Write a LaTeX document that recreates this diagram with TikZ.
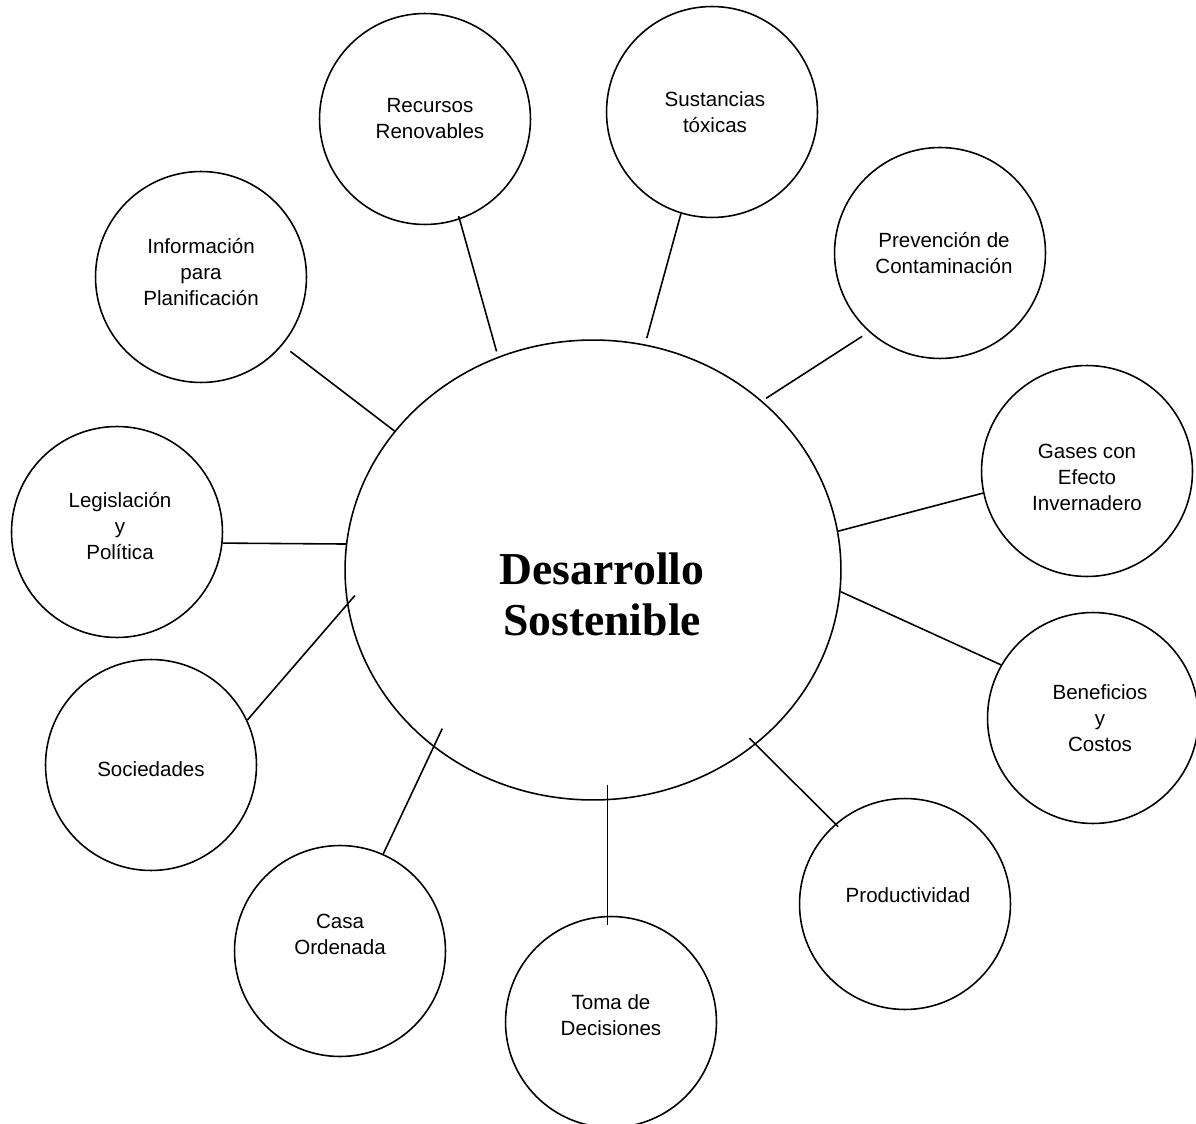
\documentclass[tikz,border=0pt]{standalone}
\usepackage{fontspec}
\setmainfont{Liberation Serif}
\newfontfamily\topicfont{Liberation Sans}
\usetikzlibrary{shapes.geometric}

\begin{document}
\begin{tikzpicture}[
      x=0.02cm, y=-0.02cm,
      line width=0.9pt,
      hub/.style={ellipse, draw, minimum width=9.92cm, minimum height=9.2cm, inner sep=0pt},
      hubtext/.style={align=center, font=\bfseries\fontsize{26}{29}\selectfont},
      topic/.style={circle, draw, minimum size=4.22cm, inner sep=0pt},
      caption/.style={align=center, inner sep=0pt, font=\topicfont\fontsize{11.7}{14.8}\selectfont},
      every edge/.style={draw, line width=0.9pt}
      ]
      \useasboundingbox (0,0) rectangle (1196,1124);

      \node[hub] (dev) at (593,570) {};
      \node[hubtext] (devtext) at (602,594) {Desarrollo\\Sostenible};

      \node[topic, label={[caption, xshift=0.1cm]center:Recursos\\Renovables}] (recursos) at (425,119) {};
      \node[topic, label={[caption, xshift=0.06cm]center:Sustancias\\tóxicas}] (sustancias) at (712,112) {};
      \node[topic, label={[caption, xshift=0.08cm]center:Prevención de\\Contaminación}] (prevencion) at (940,253) {};
      \node[topic, label={[caption, yshift=-0.12cm]center:Gases con\\Efecto\\Invernadero}] (gases) at (1087,471) {};
      \node[topic, label={[caption, xshift=0.14cm]center:Beneficios\\y\\Costos}] (beneficios) at (1093,718) {};
      \node[topic, label={[caption, xshift=0.06cm, yshift=0.18cm]center:Productividad}] (productividad) at (905,904) {};
      \node[topic, label={[caption, yshift=0.14cm]center:Toma de\\Decisiones}] (toma) at (611,1022) {};
      \node[topic, label={[caption, yshift=0.34cm]center:Casa\\Ordenada}] (casa) at (340,951) {};
      \node[topic, label={[caption, yshift=-0.08cm]center:Sociedades}] (sociedades) at (151,765) {};
      \node[topic, label={[caption, xshift=0.06cm, yshift=0.11cm]center:Legislación\\y\\Política}] (legislacion) at (117,532) {};
      \node[topic, label={[caption, yshift=0.1cm]center:Información\\para\\Planificación}] (informacion) at (201,277) {};

      %spokes, upper half
      \path (dev.145) edge[shorten >=0.2cm] (informacion.-40);
      \path (dev.114) edge[shorten <=0.11cm, shorten >=-0.07cm] (recursos.-71);
      \path (dev.77) edge[shorten <=0.13cm] (sustancias.-107);
      \path (dev.45) edge[shorten <=0.09cm, shorten >=0.16cm] (prevencion.-132);
      \path (dev.9) edge (gases.-168);
      \path (dev.174) edge (legislacion.-6);

      %spokes, lower half
      \path (dev.-5) edge (beneficios.150);
      \path (dev.-47) edge[shorten <=-0.18cm, shorten >=-0.08cm] (productividad.131);
      \path (dev.south -| toma.92) edge[shorten <=-0.32cm, shorten >=-0.18cm] (toma.92);
      \path (dev.-132) edge[shorten <=-0.41cm] (casa.66);
      \path (dev.-172) edge[shorten <=-0.24cm] (sociedades.25);
\end{tikzpicture}
\end{document}
